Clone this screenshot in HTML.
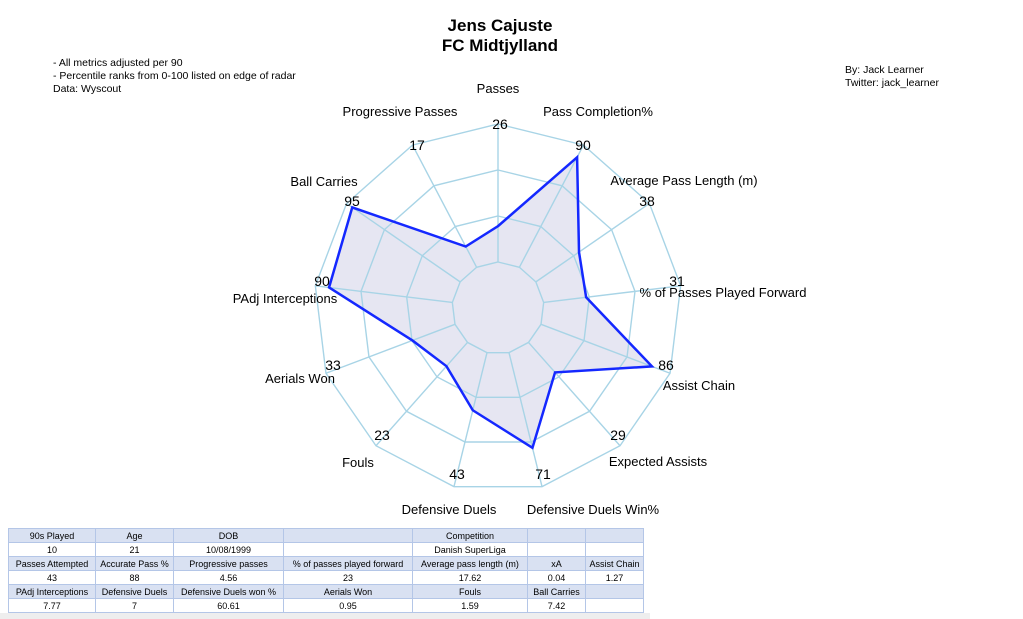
<!DOCTYPE html>
<html><head><meta charset="utf-8"><style>
body{margin:0;background:#fff;width:1023px;height:619px;overflow:hidden;font-family:"Liberation Sans",Arial,sans-serif;position:relative}
.t{position:absolute;color:#000}
table{position:absolute;left:8px;top:528px;border-collapse:collapse;font-size:9px;font-family:"Liberation Sans",sans-serif}
td{border:1px solid #b4c6e7;height:13px;padding:0 2px;text-align:center;white-space:nowrap}
tr.h td{background:#d9e1f2}
</style></head><body>
<div class="t" style="left:0;width:1000px;top:16px;text-align:center;font-size:17px;font-weight:bold;line-height:20px">Jens Cajuste<br>FC Midtjylland</div>
<div class="t" style="left:53px;top:57px;font-size:10.5px;line-height:13px">- All metrics adjusted per 90<br>- Percentile ranks from 0-100 listed on edge of radar<br>Data: Wyscout</div>
<div class="t" style="left:845px;top:64px;font-size:10.5px;line-height:13px">By: Jack Learner<br>Twitter: jack_learner</div>
<svg id="s" width="1023" height="619" style="position:absolute;left:0;top:0"></svg>
<div style="position:absolute;left:0;top:613px;width:650px;height:6px;background:#eee"></div>
<table>
<colgroup><col style="width:87px"><col style="width:78px"><col style="width:110px"><col style="width:129px"><col style="width:115px"><col style="width:58px"><col style="width:58px"></colgroup>
<tr class="h"><td>90s Played</td><td>Age</td><td>DOB</td><td></td><td>Competition</td><td></td><td></td></tr>
<tr><td>10</td><td>21</td><td>10/08/1999</td><td></td><td>Danish SuperLiga</td><td></td><td></td></tr>
<tr class="h"><td>Passes Attempted</td><td>Accurate Pass %</td><td>Progressive passes</td><td>% of passes played forward</td><td>Average pass length (m)</td><td>xA</td><td>Assist Chain</td></tr>
<tr><td>43</td><td>88</td><td>4.56</td><td>23</td><td>17.62</td><td>0.04</td><td>1.27</td></tr>
<tr class="h"><td>PAdj Interceptions</td><td>Defensive Duels</td><td>Defensive Duels won %</td><td>Aerials Won</td><td>Fouls</td><td>Ball Carries</td><td></td></tr>
<tr><td>7.77</td><td>7</td><td>60.61</td><td>0.95</td><td>1.59</td><td>7.42</td><td></td></tr>
</table>
<script>
var cx=498,cy=308,R=184,r0=46,n=13;
var vals=[26,90,38,31,86,29,71,43,23,33,90,95,17];
var names=[["Passes",498,88],["Pass Completion%",598,111],["Average Pass Length (m)",684,180],["% of Passes Played Forward",723,292],["Assist Chain",699,385],["Expected Assists",658,461],["Defensive Duels Win%",593,509],["Defensive Duels",449,509],["Fouls",358,462],["Aerials Won",300,378],["PAdj Interceptions",285,298],["Ball Carries",324,181],["Progressive Passes",400,111]];
var vl=[[500,124],[583,145],[647,201],[677,281],[666,365],[618,435],[543,474],[457,474],[382,435],[333,365],[322,281],[352,201],[417,145]];
function p(i,r){var a=i*2*Math.PI/n;return [cx+r*Math.sin(a),cy-r*Math.cos(a)];}
var h="";
var dp=[];for(var i=0;i<n;i++){var q=p(i,r0+vals[i]/100*(R-r0));dp.push(q.join(","));}
h+='<polygon points="'+dp.join(" ")+'" fill="#e6e6f2"/>';
[46,92,138,184].forEach(function(r){var a=[];for(var i=0;i<n;i++)a.push(p(i,r).join(","));h+='<polygon points="'+a.join(" ")+'" fill="none" stroke="#a8d4e6" stroke-width="1.4"/>';});
for(var i=0;i<n;i++){var a=p(i,r0),b=p(i,R);h+='<line x1="'+a[0]+'" y1="'+a[1]+'" x2="'+b[0]+'" y2="'+b[1]+'" stroke="#a8d4e6" stroke-width="1.4"/>';}
h+='<polygon points="'+dp.join(" ")+'" fill="none" stroke="#1428ff" stroke-width="2.5" stroke-linejoin="miter"/>';
names.forEach(function(s){h+='<text x="'+s[1]+'" y="'+(s[2]+5)+'" font-size="13" text-anchor="middle" font-family="Liberation Sans,sans-serif">'+s[0]+'</text>';});
vl.forEach(function(s,i){h+='<text x="'+s[0]+'" y="'+(s[1]+5)+'" font-size="14" text-anchor="middle" font-family="Liberation Sans,sans-serif">'+vals[i]+'</text>';});
document.getElementById("s").innerHTML=h;
</script>
</body></html>
